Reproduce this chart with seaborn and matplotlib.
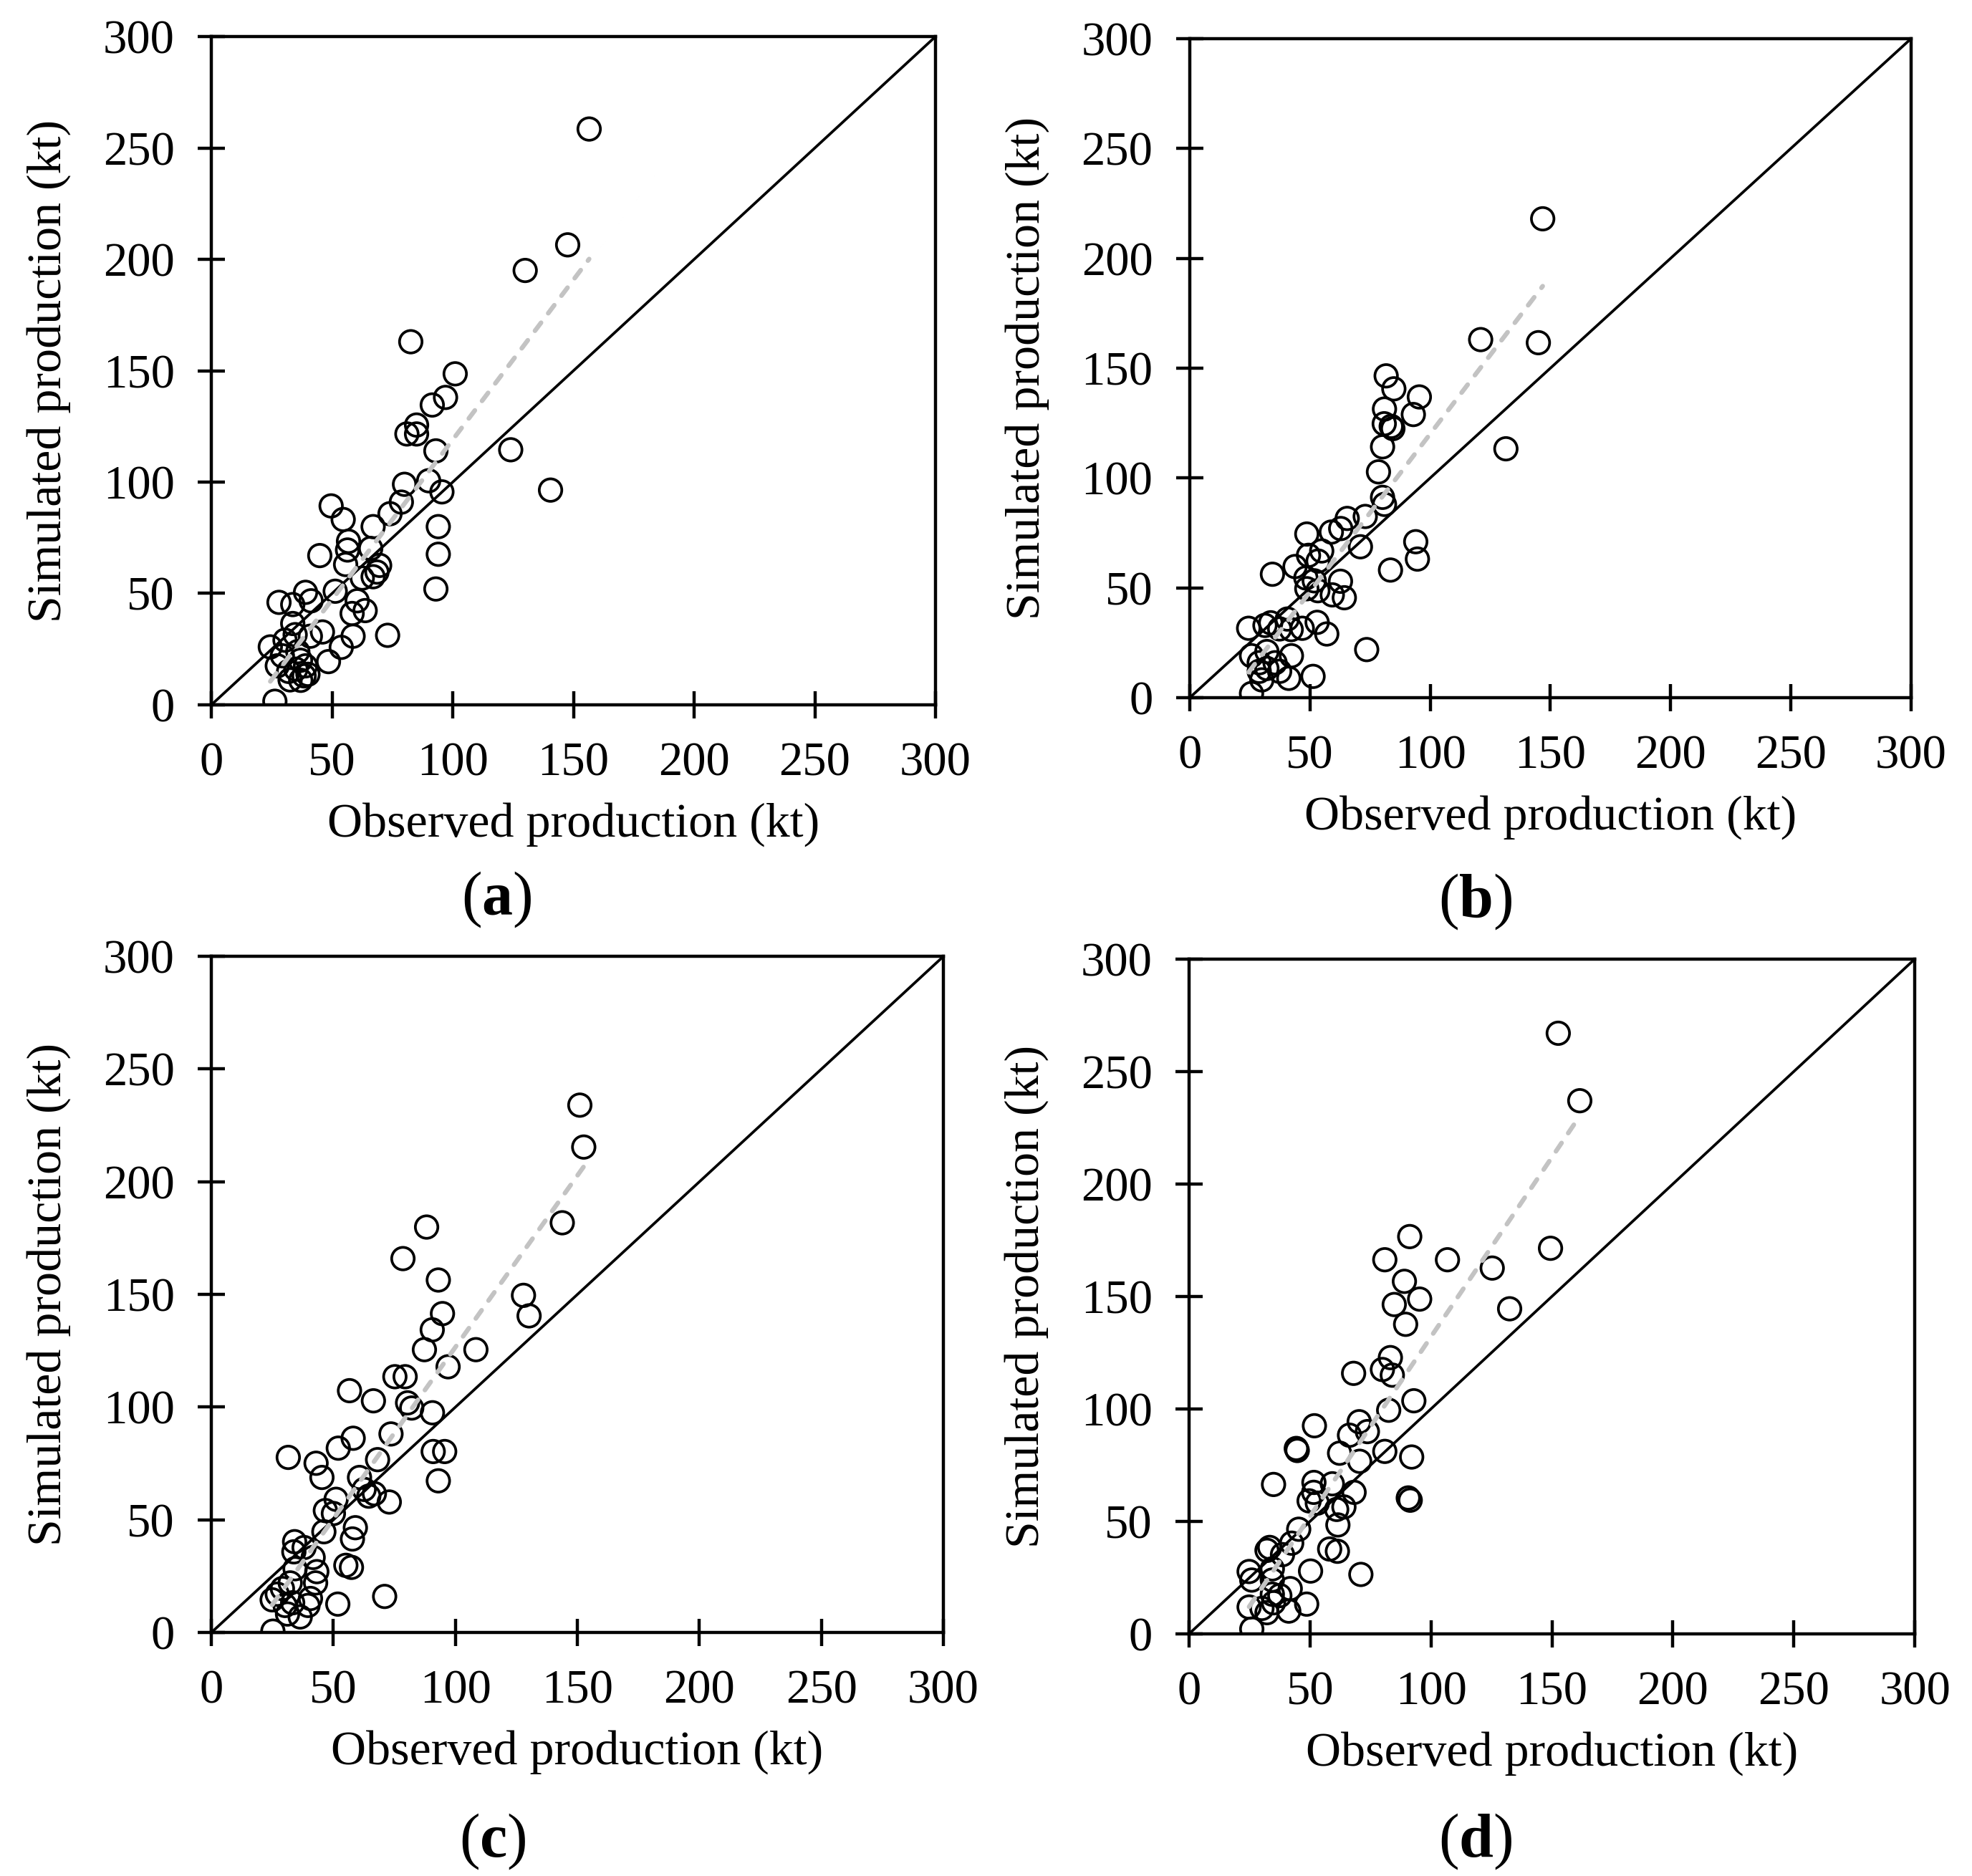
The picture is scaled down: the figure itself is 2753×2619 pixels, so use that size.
import matplotlib
matplotlib.use("Agg")
import matplotlib.pyplot as plt
import seaborn as sns
import numpy as np

sns.set_style("white")
plt.rcParams["font.family"] = ["Liberation Serif", "DejaVu Serif"]
plt.rcParams["mathtext.fontset"] = "custom"
plt.rcParams["mathtext.rm"] = "Liberation Serif"
plt.rcParams["mathtext.bf"] = "Liberation Serif:bold"
plt.rcParams["text.color"] = "black"
plt.rcParams["axes.labelcolor"] = "black"
plt.rcParams["xtick.color"] = "black"
plt.rcParams["ytick.color"] = "black"

# observed vs simulated production (kt)
obs_a = [130, 82.6, 101, 97, 91.5, 85, 85, 81, 93, 124, 140.5, 90, 80, 95.5, 78.7, 74,
         49.6, 54.6, 67, 94, 56.8, 56.4, 66, 44.9, 94, 55.6, 69.7, 68.6, 67, 62.5, 93,
         51.3, 39, 28, 41.3, 33.7, 60.4, 63.7, 58.3, 33.7, 46, 41, 58.7, 73, 53.8, 24.4,
         30.5, 34.7, 48.5, 27.3, 32, 40, 32.6, 36.9, 39, 26.3, 35.8, 29.4, 38.4, 35, 37,
         156.5, 147.6]
sim_a = [195, 163, 148.6, 138, 134.6, 125.6, 121.6, 121.6, 114, 114.5, 96.4, 100.6, 99,
         95.6, 91, 85.8, 89.3, 83.2, 80, 80, 73.4, 69.5, 70.2, 67, 67.6, 63, 62.6, 59.6,
         57.5, 56.9, 52, 51, 50.5, 46, 46.7, 45, 46.7, 42.3, 41, 36.5, 32.7, 30.8, 30.8,
         31.2, 25.8, 26, 29, 31.5, 19.4, 17.5, 15, 13.7, 11.2, 20, 17.5, 1.6, 23.9, 22,
         13, 16, 11, 258.5, 206.5]

obs_b = [121, 145, 81.7, 84.9, 95.5, 93, 81, 80.9, 83.8, 84.5, 80.2, 78.5, 131.5, 80.2,
         81, 73, 65.5, 62.8, 58.9, 48.7, 71, 94, 94.7, 83.5, 34.4, 54.9, 53.4, 49.4, 43.8,
         48.3, 51.8, 62.7, 59.3, 64.3, 48.7, 53.3, 73.6, 24.5, 33.7, 40.6, 53, 57, 42.2,
         37.4, 25.7, 42.3, 51.3, 25.7, 30, 28.9, 32.1, 35.5, 37.4, 41.2, 32.1, 31.3, 28.9,
         46.8, 146.8]
sim_b = [163, 161.6, 146.5, 140.6, 136.9, 128.9, 131.4, 124.7, 123.5, 122.5, 114.2,
         102.8, 113.3, 91.2, 88, 82.5, 81.6, 77, 75.4, 74.5, 68.7, 71, 63.1, 58.1, 56.2,
         66.8, 62.2, 64.8, 59.7, 54.5, 53.2, 53, 46.8, 45.5, 49.6, 48.7, 21.9, 31.6, 34.1,
         35.8, 34.3, 29, 31, 31.3, 19.1, 19.1, 9.7, 1.9, 8.1, 15.9, 13.3, 15.9, 12, 8.8,
         21, 32.9, 12, 31.6, 218]

obs_c = [143.8, 88.2, 78.5, 93, 127.9, 130.2, 94.7, 90.5, 87.3, 108.4, 97, 75.2, 79.4,
         56.6, 66.4, 80.4, 82.1, 90.6, 73.6, 58.1, 52, 90.9, 95.6, 31.5, 42.9, 45.3, 68.1,
         93, 60.7, 62.6, 66.8, 72.9, 51.1, 46.7, 50, 59, 46.1, 57.8, 34.1, 38, 33.8, 41.7,
         55.1, 57.4, 43.2, 42.7, 34.3, 71, 51.8, 24.9, 27, 30.2, 33.3, 39.6, 36.4, 31.2,
         40.6, 25.2, 32.3, 29.1, 64.5, 151, 152.6]
sim_c = [181.8, 179.9, 165.9, 156.4, 149.6, 140.5, 141.5, 134.3, 125.5, 125.5, 117.9,
         113.5, 113.5, 107.3, 102.8, 101.9, 99.6, 97.5, 88.1, 86.2, 81.8, 80.3, 80.3,
         77.7, 75.1, 68.8, 76.7, 67.3, 68.8, 63.5, 61.6, 57.9, 59.1, 54.1, 52.8, 46.5,
         44.7, 41.5, 40.3, 37.7, 35.8, 33.3, 29.8, 28.9, 27, 22, 28.3, 16, 12.6, 14.5, 17,
         12, 13.2, 12, 6.9, 8.2, 15.1, 0.6, 22, 19.5, 60.5, 234, 215.4]

obs_d = [149.4, 91.2, 80.9, 106.8, 125.3, 89, 95.3, 84.8, 132.5, 89.5, 83.2, 79.9, 84,
         68, 92.9, 82.5, 70.3, 73.7, 66.3, 51.8, 44.3, 44.7, 62.2, 70.5, 80.9, 92, 34.9,
         51.6, 59.2, 68.2, 51.5, 49.6, 53, 64, 61, 90.6, 91.4, 61.5, 45.3, 42.4, 58.1,
         61.3, 33.3, 32.2, 38.6, 50.2, 71, 24.8, 34.4, 25.9, 34.4, 41.8, 34.4, 37.5, 48.6,
         24.8, 30.1, 32.2, 41.2, 25.9, 34.9, 152.6, 161.5]
sim_d = [171.4, 176.6, 166.3, 166.3, 162.6, 156.7, 148.8, 146.4, 144.5, 137.6, 122.8,
         117.5, 115, 115.8, 103.6, 99.4, 94.3, 89.9, 88.3, 92.5, 82.4, 81.5, 80.3, 76.7,
         81.1, 78.6, 66.4, 67.3, 66.7, 62.9, 62.9, 59.1, 58.1, 56.4, 55.3, 60.4, 59.4,
         48.4, 46.5, 40.3, 37.7, 36.7, 38.4, 37.1, 35.2, 27.9, 26.4, 27.7, 28.9, 23.9,
         23.9, 20.1, 17.6, 17, 13.2, 11.9, 11.3, 9.4, 10.1, 2.1, 13.8, 267, 237]

panels = [("a", obs_a, sim_a), ("b", obs_b, sim_b), ("c", obs_c, sim_c), ("d", obs_d, sim_d)]
ticks = [0, 50, 100, 150, 200, 250, 300]

# axes boxes in figure fractions
boxes = [
    [0.1072, 0.6243, 0.3672, 0.3562],
    [0.6033, 0.6281, 0.3658, 0.3513],
    [0.1072, 0.1298, 0.3712, 0.3604],
    [0.6030, 0.1291, 0.3680, 0.3597],
]
tag_pos = [(0.2517, 0.5204), (0.7480, 0.5190), (0.2500, 0.0183), (0.7480, 0.0183)]

fig = plt.figure(figsize=(13.765, 13.095), dpi=200)

for (tag, obs, sim), box, tpos in zip(panels, boxes, tag_pos):
    ax = fig.add_axes(box)

    # 1:1 line
    ax.plot([0, 300], [0, 300], color="black", lw=1.35, zorder=1)

    sns.scatterplot(x=obs, y=sim, ax=ax, marker="o", s=128, facecolor="none",
                    edgecolor="black", linewidth=1.35, zorder=2, legend=False)

    # linear trend
    sns.regplot(x=np.array(obs), y=np.array(sim), ax=ax, scatter=False, ci=None,
                truncate=True,
                line_kws=dict(color="#C3C3C3", lw=2.3, ls=(0, (2.2, 2.6)),
                              dash_capstyle="round", zorder=3))

    ax.set_xlim(0, 300)
    ax.set_ylim(0, 300)
    ax.set_xticks(ticks)
    ax.set_yticks(ticks)
    for sp in ax.spines.values():
        sp.set_visible(True)
        sp.set_color("black")
        sp.set_linewidth(1.6)
    ax.tick_params(direction="inout", length=14, width=1.6, labelsize=24,
                   pad=11.5, colors="black", bottom=True, left=True)
    ax.set_xlabel("Observed production (kt)", fontsize=24.5, labelpad=8.5)
    ax.set_ylabel("Simulated production (kt)", fontsize=24.5, labelpad=16)

    fig.text(tpos[0], tpos[1], rf"($\mathbf{{{tag}}}$)", fontsize=31,
             ha="center", va="center")

fig.savefig("out.png", dpi=200, facecolor="white")
